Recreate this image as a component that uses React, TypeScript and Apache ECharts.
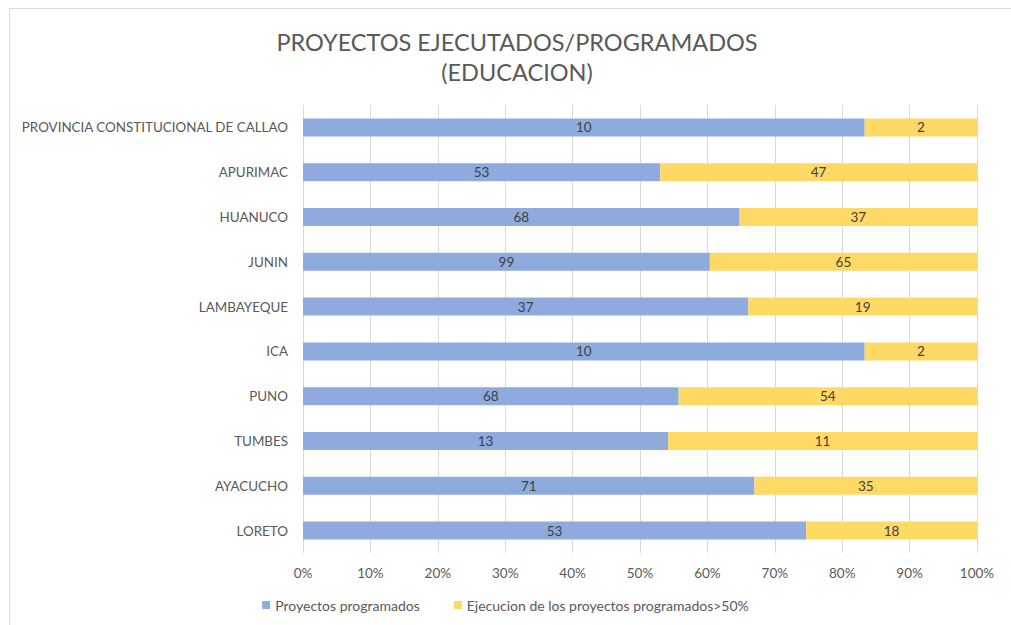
import React, { useEffect, useRef } from "react";
import * as echarts from "echarts";

const categories = [
  "LORETO",
  "AYACUCHO",
  "TUMBES",
  "PUNO",
  "ICA",
  "LAMBAYEQUE",
  "JUNIN",
  "HUANUCO",
  "APURIMAC",
  "PROVINCIA CONSTITUCIONAL DE CALLAO",
];
const programados = [53, 71, 13, 68, 10, 37, 99, 68, 53, 10];
const ejecucion = [18, 35, 11, 54, 2, 19, 65, 37, 47, 2];
const xTicks = [0, 10, 20, 30, 40, 50, 60, 70, 80, 90, 100];
const seriesNames = [
  "Proyectos programados",
  "Ejecucion de los proyectos programados>50%",
];

export default function App() {
  const ref = useRef<HTMLDivElement>(null);
  useEffect(() => {
    document.body.style.margin = "0";
    const chart = echarts.init(ref.current!, null, { renderer: "svg" });
    const totals = programados.map((v, i) => v + ejecucion[i]);
    const pct = (arr: number[]) => arr.map((v, i) => (v / totals[i]) * 100);
    const font = "Lato, 'Open Sans', sans-serif";
    const raw = [programados, ejecucion];
    const colors = ["#8faadc", "#ffd966"];
    chart.setOption({
      animation: false,
      textStyle: { fontFamily: font },
      title: {
        text: "PROYECTOS EJECUTADOS/PROGRAMADOS\n(EDUCACION)",
        left: 512,
        textAlign: "center",
        top: 22,
        textStyle: {
          fontFamily: font,
          fontSize: 23.5,
          fontWeight: "normal",
          color: "#595959",
          lineHeight: 30,
        },
      },
      graphic: [
        {
          type: "rect",
          shape: { x: 9.5, y: 8.5, width: 1010, height: 640 },
          style: { fill: "none", stroke: "#d9d9d9", lineWidth: 1 },
          silent: true,
        },
      ],
      legend: {
        left: "center",
        top: 593,
        icon: "rect",
        itemWidth: 8,
        itemHeight: 8,
        itemGap: 34,
        textStyle: { fontFamily: font, fontSize: 14, color: "#595959" },
        data: seriesNames,
      },
      grid: { left: 303, right: 34, top: 105, bottom: 72 },
      xAxis: {
        type: "value",
        min: xTicks[0],
        max: xTicks[xTicks.length - 1],
        interval: 10,
        axisLine: { show: false },
        axisTick: { show: false },
        axisLabel: {
          formatter: "{value}%",
          fontFamily: font,
          fontSize: 13.5,
          color: "#595959",
          margin: 13,
        },
        splitLine: { lineStyle: { color: "#d9d9d9" } },
      },
      yAxis: {
        type: "category",
        data: categories,
        axisLine: { show: false },
        axisTick: { show: false },
        axisLabel: {
          fontFamily: font,
          fontSize: 13.4,
          color: "#595959",
          margin: 15,
        },
      },
      series: seriesNames.map((name, s) => ({
        name,
        type: "bar",
        stack: "total",
        barWidth: 18,
        itemStyle: { color: colors[s] },
        label: {
          show: true,
          position: "inside",
          color: "#404040",
          fontFamily: font,
          fontSize: 13.5,
          formatter: (p: any) => String(raw[s][p.dataIndex]),
        },
        data: pct(raw[s]),
      })),
    });
    return () => chart.dispose();
  }, []);
  return <div ref={ref} style={{ width: 1011, height: 625 }} />;
}
